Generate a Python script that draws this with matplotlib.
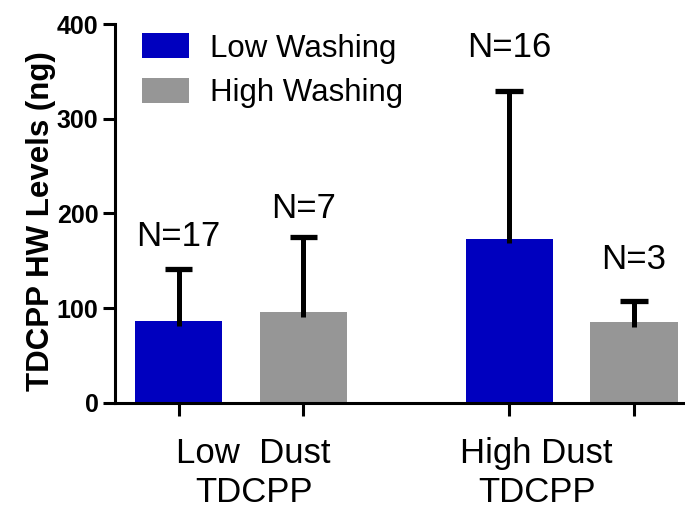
import numpy as np
import matplotlib.pyplot as plt

plt.rcParams['font.family'] = ['Liberation Sans', 'DejaVu Sans']

# Mean TDCPP hand-wipe levels with upper error bars
groups = ['Low  Dust\nTDCPP', 'High Dust\nTDCPP']
series = ['Low Washing', 'High Washing']
low_wash = [86.5, 173.5]
high_wash = [95.5, 85.5]
low_wash_err = [55, 156]
high_wash_err = [80, 22]
low_wash_n = ['N=17', 'N=16']
high_wash_n = ['N=7', 'N=3']

blue = '#0000bf'
gray = '#969696'

fig = plt.figure(figsize=(6.85, 5.15), dpi=100)
ax = fig.add_axes([0.168, 0.218, 0.832, 0.735])

group_x = np.array([0.0, 2.65])
width = 0.70
x_low = group_x
x_high = group_x + 1.0

ax.bar(x_low, low_wash, width, color=blue, label=series[0], zorder=2)
ax.bar(x_high, high_wash, width, color=gray, label=series[1], zorder=2)

# upper-only error bars: stem from a bit inside the bar up to a cap
cap = 0.11
for xs, vals, errs in [(x_low, low_wash, low_wash_err), (x_high, high_wash, high_wash_err)]:
    for x, v, e in zip(xs, vals, errs):
        ax.plot([x, x], [v - 5, v + e], color='black', lw=3.6, solid_capstyle='butt', zorder=3)
        ax.plot([x - cap, x + cap], [v + e, v + e], color='black', lw=3.8,
                solid_capstyle='butt', zorder=3)

# sample size labels
n_offsets = [(x_low, low_wash, low_wash_err, low_wash_n, [24, 36]),
             (x_high, high_wash, high_wash_err, high_wash_n, [20, 34])]
for xs, vals, errs, labels, offs in n_offsets:
    for x, v, e, lab, o in zip(xs, vals, errs, labels, offs):
        ax.text(x, v + e + o, lab, ha='center', va='baseline', fontsize=25)

ax.set_ylim(0, 400)
ax.set_xlim(-0.51, 4.06)
ax.set_yticks([0, 100, 200, 300, 400])
ax.tick_params(axis='y', labelsize=18, width=2.2, length=9, direction='out', pad=3)
for lab in ax.get_yticklabels():
    lab.set_fontweight('bold')
ax.set_ylabel('TDCPP HW Levels (ng)', fontsize=22.5, fontweight='bold')
ax.yaxis.set_label_coords(-0.104, 0.48)

ax.set_xticks(np.concatenate([x_low, x_high]))
ax.set_xticklabels([])
ax.tick_params(axis='x', width=2.2, length=9, direction='out')

for x, g in zip([0.6, 2.87], groups):
    ax.text(x, -36, g, ha='center', va='top', fontsize=25, linespacing=1.25,
            transform=ax.transData)

for side in ['top', 'right']:
    ax.spines[side].set_visible(False)
for side in ['left', 'bottom']:
    ax.spines[side].set_linewidth(2.2)

ax.legend(loc='upper left', bbox_to_anchor=(0.015, 1.025), frameon=False, fontsize=22.5,
          handlelength=1.5, handleheight=0.85, handletextpad=0.65, labelspacing=0.45,
          borderaxespad=0.2)

fig.savefig('out.png', dpi=100)
